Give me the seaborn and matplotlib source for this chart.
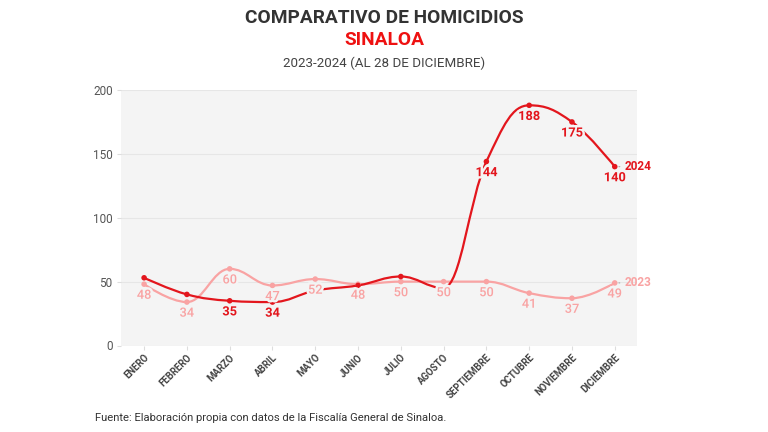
import numpy as np
import pandas as pd
import matplotlib
matplotlib.use("Agg")
import matplotlib.pyplot as plt
import seaborn as sns
from matplotlib.path import Path
from matplotlib.patches import PathPatch
import matplotlib.patheffects as pe

# ---- data ----
months = ["ENERO", "FEBRERO", "MARZO", "ABRIL", "MAYO", "JUNIO", "JULIO",
          "AGOSTO", "SEPTIEMBRE", "OCTUBRE", "NOVIEMBRE", "DICIEMBRE"]
v2023 = [48, 34, 60, 47, 52, 48, 50, 50, 50, 41, 37, 49]
v2024 = [53, 40, 35, 34, 43, 47, 54, 45, 144, 188, 175, 140]
show2023 = [True] * 12
show2024 = [False, False, True, True, False, False, False, False, True, True, True, True]
y_ticks = [0, 50, 100, 150, 200]

title = "COMPARATIVO DE HOMICIDIOS"
subtitle_state = "SINALOA"
subtitle = "2023-2024 (AL 28 DE DICIEMBRE)"
source = "Fuente: Elaboración propia con datos de la Fiscalía General de Sinaloa."

C24 = "#e3161d"
C23 = "#f9a3a3"
BG = "#f4f4f4"

sns.set_theme(style="white")
plt.rcParams["font.family"] = ["Roboto", "DejaVu Sans"]

fig = plt.figure(figsize=(7.68, 4.32), dpi=100)
ax = fig.add_axes([121 / 768, 1 - 345.5 / 432, 516 / 768, 255.5 / 432])
ax.set_facecolor(BG)

pos = list(range(len(months)))
df = pd.DataFrame({
    "pos": pos * 2,
    "value": v2023 + v2024,
    "year": ["2023"] * 12 + ["2024"] * 12,
})


def spline_path(xs, ys, smoothing=1.5):
    """Highcharts-style spline as cubic Bezier path through the data points."""
    n = len(xs)
    lc = [None] * n
    rc = [None] * n
    d = smoothing + 1
    for i in range(n):
        x, y = xs[i], ys[i]
        if 0 < i < n - 1:
            lx, ly = xs[i - 1], ys[i - 1]
            nx, ny = xs[i + 1], ys[i + 1]
            lcx = (smoothing * x + lx) / d
            lcy = (smoothing * y + ly) / d
            rcx = (smoothing * x + nx) / d
            rcy = (smoothing * y + ny) / d
            corr = ((rcy - lcy) * (rcx - x)) / (rcx - lcx) + y - rcy
            lcy += corr
            rcy += corr
            if lcy > ly and lcy > y:
                lcy = max(ly, y)
                rcy = 2 * y - lcy
            elif lcy < ly and lcy < y:
                lcy = min(ly, y)
                rcy = 2 * y - lcy
            if rcy > ny and rcy > y:
                rcy = max(ny, y)
                lcy = 2 * y - rcy
            elif rcy < ny and rcy < y:
                rcy = min(ny, y)
                lcy = 2 * y - rcy
            lc[i] = (lcx, lcy)
            rc[i] = (rcx, rcy)
        else:
            lc[i] = (x, y)
            rc[i] = (x, y)
    verts = [(xs[0], ys[0])]
    codes = [Path.MOVETO]
    for i in range(1, n):
        verts += [rc[i - 1], lc[i], (xs[i], ys[i])]
        codes += [Path.CURVE4] * 3
    return Path(verts, codes)


for vals, col, z in [(v2023, C23, 2), (v2024, C24, 3)]:
    p = spline_path(pos, vals)
    ax.add_patch(PathPatch(p, facecolor="none", edgecolor=col, lw=1.6,
                           zorder=z, capstyle="round", joinstyle="round"))

sns.scatterplot(data=df, x="pos", y="value", hue="year",
                palette={"2023": C23, "2024": C24}, s=16, linewidth=0,
                legend=False, ax=ax, zorder=4)
for c in ax.collections:
    c.set_zorder(4)

halo = [pe.withStroke(linewidth=3.5, foreground=BG)]
for vals, show, col, w in [(v2024, show2024, C24, "bold"), (v2023, show2023, C23, "medium")]:
    for i, v in enumerate(vals):
        if show[i]:
            t = ax.annotate(str(v), (i, v), xytext=(0, -8), textcoords="offset points",
                            ha="center", va="center", fontsize=9.2, color=col,
                            fontweight=w, zorder=6)
            t.set_path_effects(halo)

for vals, col, name in [(v2024, C24, "2024"), (v2023, C23, "2023")]:
    ax.annotate(name, (11, vals[-1]), xytext=(7, 0), textcoords="offset points",
                ha="left", va="center", fontsize=8.5, fontweight="bold", color=col,
                zorder=6,
                arrowprops=dict(arrowstyle="-", color="#aaaaaa", lw=0.8,
                                shrinkA=1, shrinkB=3))

ax.set_xlim(-0.54, 11.52)
ax.set_ylim(0, 200)
ax.set_yticks(y_ticks)
ax.set_yticklabels([str(t) for t in y_ticks])
ax.set_xticks(pos)
ax.set_xticklabels(months, rotation=45, ha="right", rotation_mode="anchor",
                   fontsize=6.9, fontweight="semibold", color="#444444")
ax.tick_params(axis="y", labelsize=8.5, labelcolor="#555555", length=3,
               color="#dddddd", width=0.8, pad=3, left=True)
ax.tick_params(axis="x", length=3, color="#dddddd", width=0.8, pad=2, bottom=True)
for s in ax.spines.values():
    s.set_visible(False)
ax.grid(axis="y", color="#e6e6e6", lw=0.8)
ax.set_axisbelow(True)
ax.set_xlabel("")
ax.set_ylabel("")

fig.text(0.5, 1 - 18 / 432, title, ha="center", va="center", fontsize=13.8,
         fontweight="bold", color="#333333")
fig.text(0.5, 1 - 40 / 432, subtitle_state, ha="center", va="center", fontsize=13.8,
         fontweight="bold", color="#ee1111")
fig.text(0.5, 1 - 63 / 432, subtitle, ha="center", va="center", fontsize=9.6,
         color="#444444")
fig.text(95 / 768, 1 - 418 / 432, source, ha="left", va="center", fontsize=8.1,
         color="#333333")

fig.savefig("out.png", dpi=100)
